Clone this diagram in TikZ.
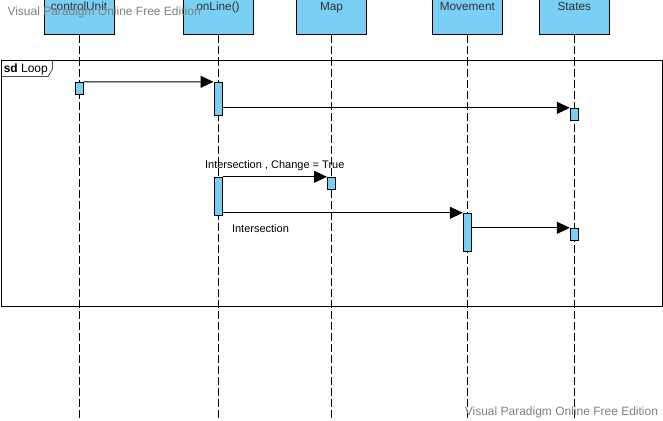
\documentclass[tikz,border=0pt]{standalone}
\usepackage{fontspec}
\setmainfont{Liberation Sans}
\usetikzlibrary{arrows.meta}
\definecolor{boxblue}{RGB}{122,207,245}
\definecolor{headtext}{RGB}{51,51,51}
\definecolor{wmgray}{RGB}{128,128,128}
\tikzset{
  head/.style={draw, fill=boxblue, minimum width=70pt, inner sep=0pt, text height=16.3pt, text depth=24.7pt, text=headtext, font=\fontsize{11.8}{14}\selectfont},
  bar/.style={draw, fill=boxblue, minimum width=8pt, inner sep=0pt},
  life/.style={dash pattern=on 8pt off 3pt},
  msg/.style={-{Triangle[length=13pt,width=12pt]}},
  lbl/.style={inner sep=1pt, font=\fontsize{11}{13}\selectfont},
  wm/.style={inner sep=0pt, text=wmgray, font=\fontsize{12}{14}\selectfont}
}
\begin{document}
\begin{tikzpicture}[x=1pt, y=-1pt, line width=1pt]
        \useasboundingbox (0,0) rectangle (663,420);
        \clip (0,0) rectangle (663,420);
        \draw (1,60) rectangle (662.5,306);
        \draw[line width=.8pt, black!70] (1,76.5) -- (48,76.5) -- (52.5,69) -- (52.5,60);
        \node[anchor=base west, inner sep=0pt, font=\fontsize{12}{14}\selectfont] (sd) at (3.3,72.5) {\textbf{sd} Loop};
        \node[head] (cu) at (79,14.5) {controlUnit};
        \node[head] (ol) at (218,14.5) {onLine()};
        \node[head] (mp) at (331.5,14.5) {Map};
        \node[head] (mv) at (467.3,14.5) {Movement};
        \node[head] (st) at (574.3,14.5) {States};
        \coordinate (cuEnd) at (79,420);
        \coordinate (olEnd) at (218,420);
        \coordinate (mpEnd) at (331.5,420);
        \coordinate (mvEnd) at (467.3,420);
        \coordinate (stEnd) at (574.3,420);
        \draw[life] (cu) -- (cuEnd);
        \draw[life] (ol) -- (olEnd);
        \draw[life] (mp) -- (mpEnd);
        \draw[life] (mv) -- (mvEnd);
        \draw[life] (st) -- (stEnd);
        \node[bar, minimum height=12pt] (a1) at (79,88.3) {};
        \node[bar, minimum height=32.7pt] (a2) at (218,98.7) {};
        \node[bar, minimum height=11.7pt] (s1) at (574.3,114.2) {};
        \node[bar, minimum height=38pt] (a3) at (218,196.3) {};
        \node[bar, minimum height=12pt] (m1) at (331.5,183.3) {};
        \node[bar, minimum height=38pt] (v1) at (467.3,232.3) {};
        \node[bar, minimum height=12pt] (s2) at (574.3,234.3) {};
        \draw[msg] (a1.north east) -- (a2.north west);
        \draw[msg] (a2.east |- s1.north) -- (s1.north west);
        \draw[msg] (a3.north east) -- (m1.north west) node[lbl, midway, above=5pt] {Intersection , Change = True};
        \draw[msg] (a3.east |- v1.north) -- (v1.north west) node[lbl, pos=.158, below=10.5pt] {Intersection};
        \draw[msg] (v1.east |- s2.north) -- (s2.north west);
        \node[wm, anchor=base west] (wm1) at (7,16) {Visual Paradigm Online Free Edition};
        \node[wm, anchor=base west] (wm2) at (464.3,415.3) {Visual Paradigm Online Free Edition};
    \end{tikzpicture}
\end{document}
